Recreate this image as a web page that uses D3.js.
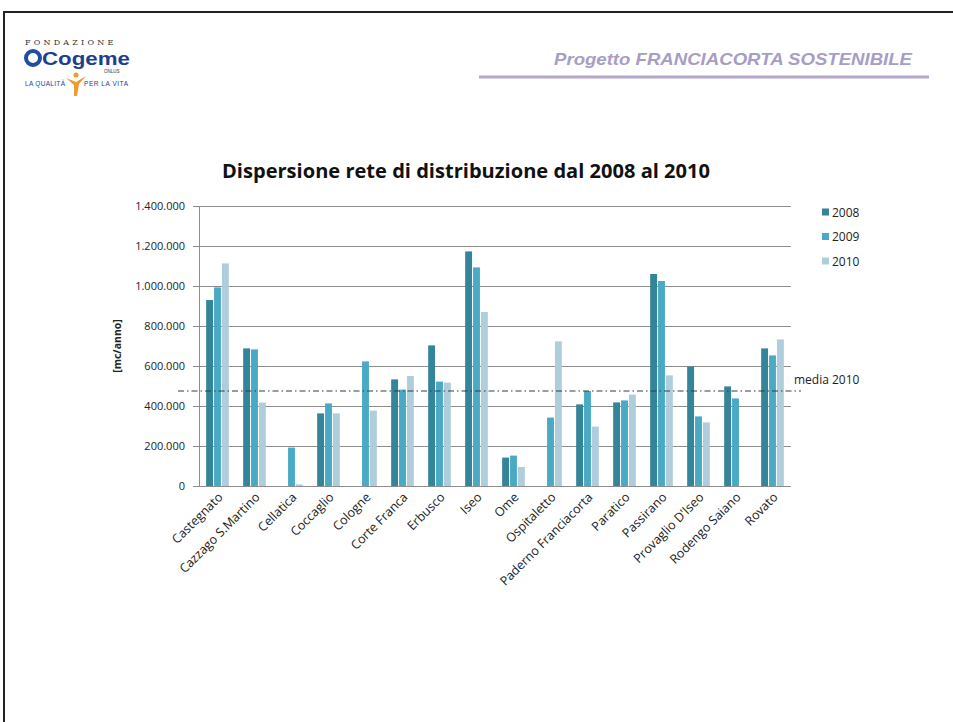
<!DOCTYPE html>
<html>
<head>
<meta charset="utf-8">
<script src="https://cdn.jsdelivr.net/npm/d3@7"></script>
<style>
  body { margin: 0; background: #fff; }
</style>
</head>
<body>
<div id="chart"></div>
<script>
// Data (mc/anno)
var comuni = ["Castegnato", "Cazzago S.Martino", "Cellatica", "Coccaglio", "Cologne",
  "Corte Franca", "Erbusco", "Iseo", "Ome", "Ospitaletto", "Paderno Franciacorta",
  "Paratico", "Passirano", "Provaglio D'Iseo", "Rodengo Saiano", "Rovato"];
var anni = ["2008", "2009", "2010"];
var values2008 = [930000, 688000, 0, 363000, 0, 533000, 703000, 1173000, 142000, 0, 408000, 418000, 1060000, 597000, 498000, 688000];
var values2009 = [993000, 683000, 192000, 413000, 623000, 482000, 522000, 1093000, 152000, 342000, 475000, 428000, 1025000, 348000, 438000, 653000];
var values2010 = [1113000, 417000, 8000, 363000, 377000, 550000, 517000, 870000, 95000, 723000, 297000, 457000, 553000, 318000, 0, 733000];
var media2010 = 475000;
var yTicks = [0, 200000, 400000, 600000, 800000, 1000000, 1200000, 1400000];

var svgWidth = 953;
var svgHeight = 722;
var margin = { top: 206, right: 162, bottom: 236, left: 199 };
var width = svgWidth - margin.left - margin.right;
var height = svgHeight - margin.top - margin.bottom;

var colors = { "2008": "#34849a", "2009": "#4aaac4", "2010": "#b0cddb" };

var svg = d3.select("#chart")
  .append("svg")
  .attr("width", svgWidth)
  .attr("height", svgHeight)
  .attr("font-family", "Open Sans, sans-serif");

// slide frame
svg.append("path")
  .attr("d", "M4,722 L4,12 L953,12")
  .attr("fill", "none")
  .attr("stroke", "#222")
  .attr("stroke-width", 2);

// header: logo
var logo = svg.append("g");
logo.append("text")
  .attr("x", 25).attr("y", 45)
  .attr("font-family", "DejaVu Serif, serif")
  .attr("font-size", 8)
  .attr("letter-spacing", 3.2)
  .attr("fill", "#333")
  .text("FONDAZIONE");
logo.append("circle")
  .attr("cx", 33).attr("cy", 58).attr("r", 7)
  .attr("fill", "none").attr("stroke", "#1f4f9e").attr("stroke-width", 4);
logo.append("text")
  .attr("x", 42).attr("y", 65)
  .attr("font-family", "Liberation Sans, Arial, sans-serif")
  .attr("font-weight", "bold")
  .attr("font-size", 18)
  .attr("textLength", 88)
  .attr("lengthAdjust", "spacingAndGlyphs")
  .attr("fill", "#1c3f93")
  .text("Cogeme");
logo.append("text")
  .attr("x", 104).attr("y", 73)
  .attr("font-family", "Liberation Sans, sans-serif")
  .attr("font-size", 4.5)
  .attr("fill", "#333")
  .text("ONLUS");
logo.append("text")
  .attr("x", 25).attr("y", 86)
  .attr("font-family", "Liberation Sans Narrow, Liberation Sans, sans-serif")
  .attr("font-size", 6.5)
  .attr("textLength", 40)
  .attr("fill", "#1c3f93")
  .text("LA QUALITÀ");
logo.append("text")
  .attr("x", 84).attr("y", 86)
  .attr("font-family", "Liberation Sans Narrow, Liberation Sans, sans-serif")
  .attr("font-size", 6.5)
  .attr("textLength", 44)
  .attr("fill", "#1c3f93")
  .text("PER LA VITA");
logo.append("path")
  .attr("d", "M66,78 L76,82 L86,76 L79,84 L77,96 L74,96 L74,85 Z")
  .attr("fill", "#f29a2e");
logo.append("circle")
  .attr("cx", 76).attr("cy", 75).attr("r", 2.5)
  .attr("fill", "#f29a2e");

// header: project title
svg.append("text")
  .attr("x", 912).attr("y", 65)
  .attr("text-anchor", "end")
  .attr("font-family", "Liberation Sans, Arial, sans-serif")
  .attr("font-style", "italic")
  .attr("font-weight", "bold")
  .attr("font-size", 17)
  .attr("textLength", 358)
  .attr("lengthAdjust", "spacingAndGlyphs")
  .attr("fill", "#a79dc6")
  .text("Progetto FRANCIACORTA SOSTENIBILE");
svg.append("line")
  .attr("x1", 479).attr("x2", 929)
  .attr("y1", 77).attr("y2", 77)
  .attr("stroke", "#b3a7cc")
  .attr("stroke-width", 3);

// chart title
svg.append("text")
  .attr("x", 466).attr("y", 178)
  .attr("text-anchor", "middle")
  .attr("font-weight", "bold")
  .attr("font-size", 19)
  .attr("textLength", 488)
  .attr("lengthAdjust", "spacingAndGlyphs")
  .attr("fill", "#111")
  .text("Dispersione rete di distribuzione dal 2008 al 2010");

var chartGroup = svg.append("g")
  .attr("transform", `translate(${margin.left}, ${margin.top})`);

// scales
var x0 = d3.scaleBand()
  .domain(comuni)
  .range([0, width])
  .paddingInner(0.36)
  .paddingOuter(0.18);

var x1 = d3.scaleBand()
  .domain(anni)
  .range([0, x0.bandwidth()]);

var y = d3.scaleLinear()
  .domain([0, 1400000])
  .range([height, 0]);

var locale = d3.formatLocale({ decimal: ",", thousands: ".", grouping: [3], currency: ["", "€"] });
var fmt = locale.format(",");

// gridlines
chartGroup.append("g")
  .attr("class", "grid")
  .call(d3.axisLeft(y).tickValues(yTicks).tickSize(-width).tickFormat(""))
  .call(g => g.select(".domain").remove())
  .call(g => g.selectAll("line").attr("stroke", "#8d8d8d"));

// y axis
var yAxis = chartGroup.append("g")
  .call(d3.axisLeft(y).tickValues(yTicks).tickSize(6).tickSizeOuter(0).tickPadding(8).tickFormat(fmt));
yAxis.select(".domain").attr("stroke", "#8d8d8d");
yAxis.selectAll(".tick line").attr("stroke", "#8d8d8d");
yAxis.selectAll("text")
  .attr("font-family", "Open Sans, sans-serif")
  .attr("font-size", 11)
  .attr("fill", "#222");

// bars
var seriesData = comuni.map(function(c, i) {
  return { comune: c, vals: [
    { anno: "2008", v: values2008[i] },
    { anno: "2009", v: values2009[i] },
    { anno: "2010", v: values2010[i] }
  ] };
});

var groups = chartGroup.selectAll("g.comune")
  .data(seriesData)
  .enter()
  .append("g")
  .attr("class", "comune")
  .attr("transform", d => `translate(${x0(d.comune)}, 0)`);

groups.selectAll("rect")
  .data(d => d.vals.filter(e => e.v > 0))
  .enter()
  .append("rect")
  .attr("x", d => x1(d.anno) + 0.5)
  .attr("width", x1.bandwidth() - 1)
  .attr("y", d => y(d.v))
  .attr("height", d => height - y(d.v))
  .attr("fill", d => colors[d.anno]);

// x axis labels
var xAxis = chartGroup.append("g")
  .attr("transform", `translate(0, ${height})`)
  .call(d3.axisBottom(x0).tickSize(0).tickPadding(0));
xAxis.select(".domain").remove();
xAxis.selectAll("text")
  .attr("font-family", "Open Sans, sans-serif")
  .attr("font-size", 12.5)
  .attr("fill", "#222")
  .attr("text-anchor", "end")
  .attr("dy", "0")
  .attr("transform", "translate(6, 12) rotate(-45)");

// media 2010 line
chartGroup.append("line")
  .attr("x1", -21).attr("x2", width + 10)
  .attr("y1", y(media2010)).attr("y2", y(media2010))
  .attr("stroke", "#2c3e48")
  .attr("stroke-width", 1.2)
  .attr("stroke-dasharray", "6,3,1.5,3");
chartGroup.append("text")
  .attr("x", width + 3)
  .attr("y", y(media2010) - 7)
  .attr("font-size", 12)
  .attr("fill", "#222")
  .text("media 2010");

// y axis title
chartGroup.append("text")
  .attr("transform", "rotate(-90)")
  .attr("x", -height / 2)
  .attr("y", -78)
  .attr("text-anchor", "middle")
  .attr("font-weight", "bold")
  .attr("font-size", 10.5)
  .attr("fill", "#222")
  .text("[mc/anno]");

// legend
var legend = svg.append("g")
  .attr("transform", "translate(822, 212)");
var legendItems = legend.selectAll("g")
  .data(anni)
  .enter()
  .append("g")
  .attr("transform", (d, i) => `translate(0, ${i * 24.5})`);
legendItems.append("rect")
  .attr("x", 0).attr("y", -3.5)
  .attr("width", 7).attr("height", 7)
  .attr("fill", d => colors[d]);
legendItems.append("text")
  .attr("x", 10).attr("y", 4.5)
  .attr("font-size", 12)
  .attr("fill", "#222")
  .text(d => d);
</script>
</body>
</html>
